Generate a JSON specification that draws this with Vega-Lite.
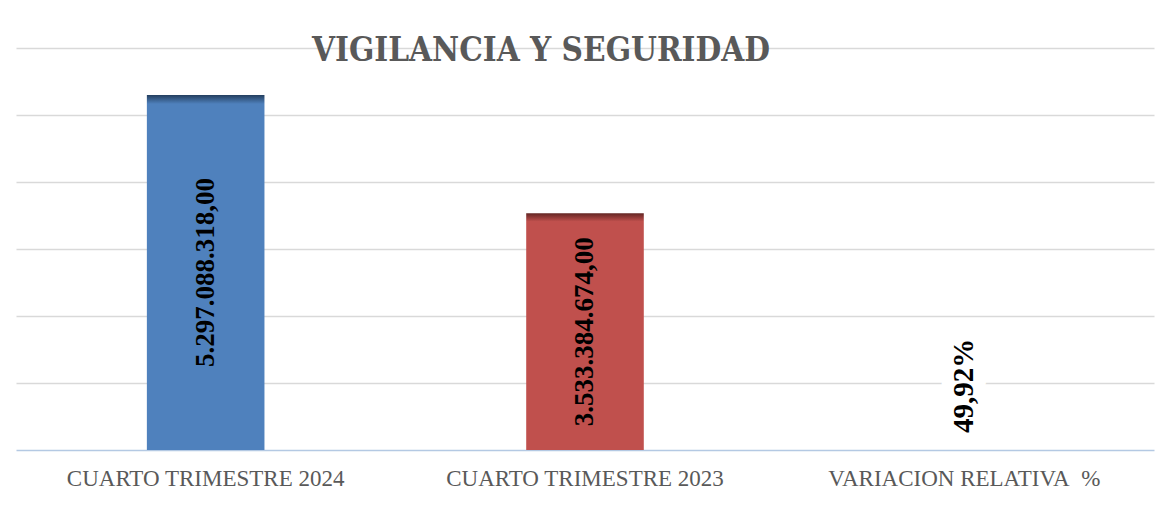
{
  "$schema": "https://vega.github.io/schema/vega-lite/v6.json",
  "autosize": {"type": "none"},
  "width": 1138,
  "height": 402,
  "padding": {"left": 16, "top": 48, "right": 5, "bottom": 65},
  "background": "#ffffff",
  "title": {
    "text": "VIGILANCIA Y SEGURIDAD",
    "font": "DejaVu Serif Condensed",
    "fontWeight": "bold",
    "fontSize": 33,
    "color": "#595959",
    "anchor": "middle",
    "baseline": "alphabetic",
    "offset": 0,
    "dy": 46,
    "dx": -44
  },
  "data": {
    "values": [
      {"category": "CUARTO TRIMESTRE 2024", "value": 5297088318, "label": "5.297.088.318,00"},
      {"category": "CUARTO TRIMESTRE 2023", "value": 3533384674, "label": "3.533.384.674,00"},
      {"category": "VARIACION RELATIVA\u00a0 %", "value": 49.92, "label": "49,92%"}
    ]
  },
  "encoding": {
    "x": {
      "field": "category",
      "type": "nominal",
      "sort": null,
      "scale": {"paddingInner": 0.69, "paddingOuter": 0.345},
      "axis": {
        "title": null,
        "labelAngle": 0,
        "labelFont": "Liberation Serif",
        "labelFontSize": 23,
        "labelColor": "#595959",
        "labelPadding": 17,
        "labelLimit": 0,
        "ticks": false,
        "domainColor": "#b4c9e3",
        "domainWidth": 1.5,
        "grid": false
      }
    }
  },
  "layer": [
    {
      "transform": [{"filter": "datum.category == 'CUARTO TRIMESTRE 2024'"}],
      "mark": {
        "type": "bar",
        "color": {
          "gradient": "linear", "x1": 0, "y1": 0, "x2": 0, "y2": 1,
          "stops": [
            {"offset": 0, "color": "#243f60"},
            {"offset": 0.025, "color": "#4f81bd"},
            {"offset": 1, "color": "#4f81bd"}
          ]
        }
      },
      "encoding": {
        "y": {
          "field": "value",
          "type": "quantitative",
          "scale": {"domain": [0, 6000000000], "nice": false},
          "axis": {
            "title": null,
            "labels": false,
            "ticks": false,
            "domain": false,
            "grid": true,
            "gridColor": "#d9d9d9",
            "gridWidth": 1.5,
            "values": [1000000000, 2000000000, 3000000000, 4000000000, 5000000000, 6000000000]
          }
        }
      }
    },
    {
      "transform": [{"filter": "datum.category == 'CUARTO TRIMESTRE 2023'"}],
      "mark": {
        "type": "bar",
        "color": {
          "gradient": "linear", "x1": 0, "y1": 0, "x2": 0, "y2": 1,
          "stops": [
            {"offset": 0, "color": "#632523"},
            {"offset": 0.035, "color": "#c0504d"},
            {"offset": 1, "color": "#c0504d"}
          ]
        }
      },
      "encoding": {
        "y": {
          "field": "value",
          "type": "quantitative",
          "scale": {"domain": [0, 6000000000], "nice": false},
          "axis": null
        }
      }
    },
    {
      "transform": [{"filter": "datum.value < 1000"}],
      "mark": {"type": "bar", "color": "#9bbb59"},
      "encoding": {
        "y": {
          "field": "value",
          "type": "quantitative",
          "scale": {"domain": [0, 6000000000], "nice": false},
          "axis": null
        }
      }
    },
    {
      "transform": [{"filter": "datum.value > 1000"}],
      "mark": {
        "type": "text",
        "angle": 270,
        "align": "center",
        "baseline": "middle",
        "font": "Liberation Serif",
        "fontWeight": "bold",
        "fontSize": 27,
        "color": "#000000"
      },
      "encoding": {
        "y": {
          "field": "value",
          "type": "quantitative",
          "scale": {"domain": [0, 12000000000], "nice": false},
          "axis": null
        },
        "text": {"field": "label"}
      }
    },
    {
      "transform": [{"filter": "datum.value < 1000"}],
      "mark": {
        "type": "text",
        "angle": 270,
        "align": "left",
        "baseline": "middle",
        "dx": 17,
        "font": "Liberation Serif",
        "fontWeight": "bold",
        "fontSize": 29,
        "color": "#ffffff",
        "stroke": "#ffffff",
        "strokeWidth": 26,
        "strokeJoin": "round"
      },
      "encoding": {
        "y": {
          "field": "value",
          "type": "quantitative",
          "scale": {"domain": [0, 6000000000], "nice": false},
          "axis": null
        },
        "text": {"field": "label"}
      }
    },
    {
      "transform": [{"filter": "datum.value < 1000"}],
      "mark": {
        "type": "text",
        "angle": 270,
        "align": "left",
        "baseline": "middle",
        "dx": 17,
        "font": "Liberation Serif",
        "fontWeight": "bold",
        "fontSize": 29,
        "color": "#000000"
      },
      "encoding": {
        "y": {
          "field": "value",
          "type": "quantitative",
          "scale": {"domain": [0, 6000000000], "nice": false},
          "axis": null
        },
        "text": {"field": "label"}
      }
    }
  ],
  "resolve": {"scale": {"y": "independent"}},
  "config": {
    "view": {"stroke": null}
  }
}
